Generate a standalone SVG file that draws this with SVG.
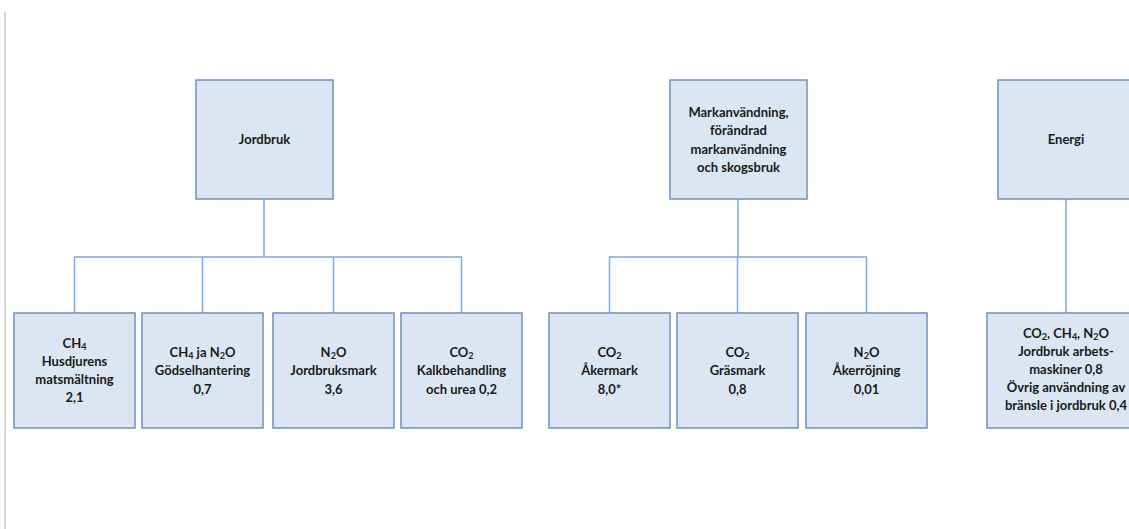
<svg xmlns="http://www.w3.org/2000/svg" width="1129" height="529" viewBox="0 0 1129 529">
<style>
.box{fill:#dce6f2;stroke:#6f90bd;stroke-width:1.5}
.con{fill:none;stroke:#79abde;stroke-width:1.5}
text{font-family:Lato,"Liberation Sans",sans-serif;font-weight:bold;font-size:13px;fill:#1a1a1a;text-anchor:middle}
.s{font-size:9px;baseline-shift:-2px}
</style>
<rect width="1129" height="529" fill="#ffffff"/>
<line x1="5" y1="12" x2="5" y2="529" stroke="#c8c8c8" stroke-width="1.5"/>
<g id="connectors">
<path class="con" d="M264 199V257M74.5 313V257H461.5V313M202.5 257V313M333.5 257V313"/>
<path class="con" d="M738 199V257M609.5 313V257H866.5V313M737.5 257V313"/>
<path class="con" d="M1066 199V313"/>
</g>
<g id="jordbruk">
<rect class="box" x="196" y="80" width="137" height="119"/>
<text x="264.5" y="144">Jordbruk</text>
</g>
<g id="mark">
<rect class="box" x="670" y="80" width="137" height="119"/>
<text x="738.5" y="116.5">Markanvändning,</text>
<text x="738.5" y="135">förändrad</text>
<text x="738.5" y="153.5">markanvändning</text>
<text x="738.5" y="172">och skogsbruk</text>
</g>
<g id="energi">
<rect class="box" x="998" y="80" width="137" height="119"/>
<text x="1066" y="144">Energi</text>
</g>
<g id="husdjur">
<rect class="box" x="14" y="313" width="121" height="115"/>
<text x="74.5" y="347.5">CH<tspan class="s">4</tspan></text>
<text x="74.5" y="365.5">Husdjurens</text>
<text x="74.5" y="383.5">matsmältning</text>
<text x="74.5" y="401.5">2,1</text>
</g>
<g id="godsel">
<rect class="box" x="142" y="313" width="121" height="115"/>
<text x="202.5" y="356.5">CH<tspan class="s">4</tspan><tspan dy="0"> ja N</tspan><tspan class="s">2</tspan><tspan>O</tspan></text>
<text x="202.5" y="375">Gödselhantering</text>
<text x="202.5" y="393.5">0,7</text>
</g>
<g id="jordbruksmark">
<rect class="box" x="273" y="313" width="121" height="115"/>
<text x="333.5" y="356.5">N<tspan class="s">2</tspan><tspan>O</tspan></text>
<text x="333.5" y="375">Jordbruksmark</text>
<text x="333.5" y="393.5">3,6</text>
</g>
<g id="kalk">
<rect class="box" x="401" y="313" width="121" height="115"/>
<text x="461.5" y="356.5">CO<tspan class="s">2</tspan></text>
<text x="461.5" y="375">Kalkbehandling</text>
<text x="461.5" y="393.5">och urea 0,2</text>
</g>
<g id="akermark">
<rect class="box" x="549" y="313" width="121" height="115"/>
<text x="609.5" y="356.5">CO<tspan class="s">2</tspan></text>
<text x="609.5" y="375">Åkermark</text>
<text x="609.5" y="393.5">8,0*</text>
</g>
<g id="grasmark">
<rect class="box" x="677" y="313" width="121" height="115"/>
<text x="737.5" y="356.5">CO<tspan class="s">2</tspan></text>
<text x="737.5" y="375">Gräsmark</text>
<text x="737.5" y="393.5">0,8</text>
</g>
<g id="akerrojning">
<rect class="box" x="806" y="313" width="121" height="115"/>
<text x="866.5" y="356.5">N<tspan class="s">2</tspan><tspan>O</tspan></text>
<text x="866.5" y="375">Åkerröjning</text>
<text x="866.5" y="393.5">0,01</text>
</g>
<g id="arbetsmaskiner">
<rect class="box" x="987" y="313" width="158" height="115"/>
<text x="1066" y="337.5">CO<tspan class="s">2</tspan><tspan>, CH</tspan><tspan class="s">4</tspan><tspan>, N</tspan><tspan class="s">2</tspan><tspan>O</tspan></text>
<text x="1066" y="355.5">Jordbruk arbets-</text>
<text x="1066" y="373.5">maskiner 0,8</text>
<text x="1066" y="391.5">Övrig användning av</text>
<text x="1066" y="410">bränsle i jordbruk 0,4</text>
</g>
</svg>
